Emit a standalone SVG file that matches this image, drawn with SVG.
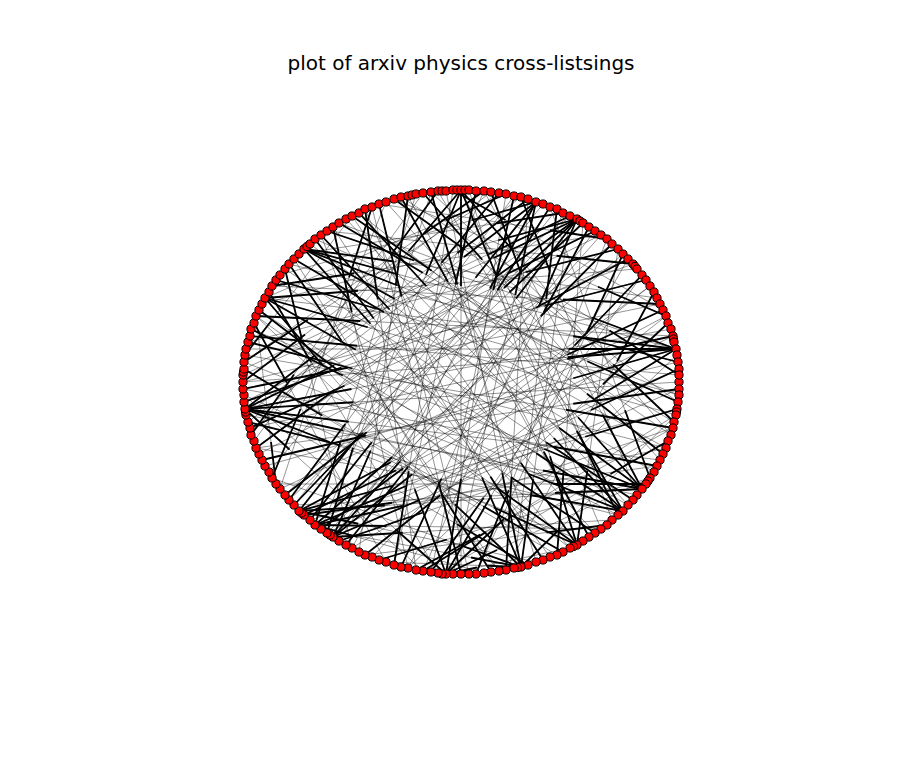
<svg xmlns="http://www.w3.org/2000/svg" xmlns:xlink="http://www.w3.org/1999/xlink" width="900" height="766" viewBox="0 0 900 766">
<style>
.title{font-family:"DejaVu Sans","Liberation Sans",sans-serif;font-size:20px;fill:#000}
.thin{fill:none;stroke:#000;stroke-width:.7;stroke-opacity:.6}
.head{fill:none;stroke:#000;stroke-width:1.8;stroke-dasharray:0 3 1 0}
#nodes circle{fill:#f00;stroke:#000;stroke-width:1;r:4.1}
</style>
<rect width="900" height="766" fill="#fff"/>
<text class="title" x="461" y="70" text-anchor="middle">plot of arxiv physics cross-listsings</text>
<g id="connectors">
<g class="thin"><g id="E">
<path pathLength="4" d="M272 478L521 567"/>
<path pathLength="4" d="M386 562L521 567"/>
<path pathLength="4" d="M256 316L521 567"/>
<path pathLength="4" d="M365 209L521 567"/>
<path pathLength="4" d="M570 216L521 567"/>
<path pathLength="4" d="M676 415L521 567"/>
<path pathLength="4" d="M321 529L521 567"/>
<path pathLength="4" d="M446 191L521 567"/>
<path pathLength="4" d="M650 478L446 574"/>
<path pathLength="4" d="M628 259L446 574"/>
<path pathLength="4" d="M506 194L446 574"/>
<path pathLength="4" d="M244 395L446 574"/>
<path pathLength="4" d="M570 548L446 574"/>
<path pathLength="4" d="M321 235L446 574"/>
<path pathLength="4" d="M677 355L446 574"/>
<path pathLength="4" d="M666 448L315 525"/>
<path pathLength="4" d="M623 254L315 525"/>
<path pathLength="4" d="M484 573L315 525"/>
<path pathLength="4" d="M416 194L315 525"/>
<path pathLength="4" d="M601 529L315 525"/>
<path pathLength="4" d="M679 369L315 525"/>
<path pathLength="4" d="M677 409L299 511"/>
<path pathLength="4" d="M666 316L299 511"/>
<path pathLength="4" d="M543 204L299 511"/>
<path pathLength="4" d="M536 562L299 511"/>
<path pathLength="4" d="M642 489L299 511"/>
<path pathLength="4" d="M679 389L333 537"/>
<path pathLength="4" d="M650 286L333 537"/>
<path pathLength="4" d="M484 191L333 537"/>
<path pathLength="4" d="M612 520L333 537"/>
<path pathLength="4" d="M601 235L333 537"/>
<path pathLength="4" d="M679 382L245 409"/>
<path pathLength="4" d="M660 460L245 409"/>
<path pathLength="4" d="M671 329L245 409"/>
<path pathLength="4" d="M601 235L245 409"/>
<path pathLength="4" d="M583 541L245 409"/>
<path pathLength="4" d="M521 197L245 409"/>
<path pathLength="4" d="M423 571L245 409"/>
<path pathLength="4" d="M637 495L245 409"/>
<path pathLength="4" d="M243 382L676 349"/>
<path pathLength="4" d="M265 298L676 349"/>
<path pathLength="4" d="M265 466L676 349"/>
<path pathLength="4" d="M339 223L676 349"/>
<path pathLength="4" d="M352 548L676 349"/>
<path pathLength="4" d="M246 349L676 349"/>
<path pathLength="4" d="M251 329L642 489"/>
<path pathLength="4" d="M310 244L642 489"/>
<path pathLength="4" d="M246 415L642 489"/>
<path pathLength="4" d="M386 202L642 489"/>
<path pathLength="4" d="M484 191L642 489"/>
<path pathLength="4" d="M294 505L642 489"/>
<path pathLength="4" d="M244 362L623 511"/>
<path pathLength="4" d="M276 280L623 511"/>
<path pathLength="4" d="M438 191L623 511"/>
<path pathLength="4" d="M256 448L623 511"/>
<path pathLength="4" d="M346 219L623 511"/>
<path pathLength="4" d="M256 448L577 219"/>
<path pathLength="4" d="M333 537L577 219"/>
<path pathLength="4" d="M243 375L577 219"/>
<path pathLength="4" d="M423 571L577 219"/>
<path pathLength="4" d="M285 495L577 219"/>
<path pathLength="4" d="M262 304L577 219"/>
<path pathLength="4" d="M352 548L536 202"/>
<path pathLength="4" d="M248 422L536 202"/>
<path pathLength="4" d="M453 574L536 202"/>
<path pathLength="4" d="M294 505L536 202"/>
<path pathLength="4" d="M280 275L536 202"/>
<path pathLength="4" d="M461 574L461 190"/>
<path pathLength="4" d="M601 529L461 190"/>
<path pathLength="4" d="M321 529L461 190"/>
<path pathLength="4" d="M671 435L461 190"/>
<path pathLength="4" d="M251 435L461 190"/>
<path pathLength="4" d="M676 349L304 249"/>
<path pathLength="4" d="M666 448L304 249"/>
<path pathLength="4" d="M657 298L304 249"/>
<path pathLength="4" d="M570 548L304 249"/>
<path pathLength="4" d="M679 395L304 249"/>
<path pathLength="4" d="M676 415L265 298"/>
<path pathLength="4" d="M637 269L265 298"/>
<path pathLength="4" d="M628 505L265 298"/>
<path pathLength="4" d="M499 571L265 298"/>
<path pathLength="4" d="M352 216L577 545"/>
<path pathLength="4" d="M256 316L577 545"/>
<path pathLength="4" d="M469 190L577 545"/>
<path pathLength="4" d="M244 395L577 545"/>
<path pathLength="4" d="M618 249L577 545"/>
<path pathLength="4" d="M676 415L423 571"/>
<path pathLength="4" d="M650 478L379 560"/>
<path pathLength="4" d="M256 316L276 484"/>
<path pathLength="4" d="M386 202L272 478"/>
<path pathLength="4" d="M570 216L256 448"/>
<path pathLength="4" d="M628 259L250 428"/>
<path pathLength="4" d="M660 304L243 389"/>
<path pathLength="4" d="M499 193L244 362"/>
<path pathLength="4" d="M352 216L245 355"/>
<path pathLength="4" d="M666 448L248 342"/>
<path pathLength="4" d="M618 515L251 329"/>
<path pathLength="4" d="M386 562L254 323"/>
<path pathLength="4" d="M673 336L256 316"/>
<path pathLength="4" d="M570 548L259 310"/>
<path pathLength="4" d="M438 573L269 292"/>
<path pathLength="4" d="M601 235L272 286"/>
<path pathLength="4" d="M679 395L276 280"/>
<path pathLength="4" d="M352 548L285 269"/>
<path pathLength="4" d="M499 571L289 264"/>
<path pathLength="4" d="M654 472L294 259"/>
<path pathLength="4" d="M550 557L315 239"/>
<path pathLength="4" d="M676 349L327 231"/>
<path pathLength="4" d="M408 568L333 227"/>
<path pathLength="4" d="M671 435L352 216"/>
<path pathLength="4" d="M628 505L359 213"/>
<path pathLength="4" d="M280 489L372 207"/>
<path pathLength="4" d="M469 574L379 204"/>
<path pathLength="4" d="M678 402L394 199"/>
<path pathLength="4" d="M589 537L401 197"/>
<path pathLength="4" d="M359 552L408 196"/>
<path pathLength="4" d="M660 460L423 193"/>
<path pathLength="4" d="M536 562L431 192"/>
<path pathLength="4" d="M254 441L438 191"/>
<path pathLength="4" d="M663 310L453 190"/>
<path pathLength="4" d="M394 565L476 191"/>
<path pathLength="4" d="M244 362L484 191"/>
<path pathLength="4" d="M612 520L491 192"/>
<path pathLength="4" d="M269 472L499 193"/>
<path pathLength="4" d="M265 298L506 194"/>
<path pathLength="4" d="M431 572L514 196"/>
<path pathLength="4" d="M637 495L521 197"/>
<path pathLength="4" d="M246 415L528 199"/>
<path pathLength="4" d="M339 541L550 207"/>
<path pathLength="4" d="M514 568L557 209"/>
<path pathLength="4" d="M299 254L563 213"/>
<path pathLength="4" d="M244 369L570 216"/>
<path pathLength="4" d="M289 500L583 223"/>
<path pathLength="4" d="M408 568L589 227"/>
<path pathLength="4" d="M244 402L595 231"/>
<path pathLength="4" d="M379 204L607 239"/>
<path pathLength="4" d="M327 533L612 244"/>
<path pathLength="4" d="M248 342L618 249"/>
<path pathLength="4" d="M476 574L623 254"/>
<path pathLength="4" d="M259 454L628 259"/>
<path pathLength="4" d="M327 231L633 264"/>
<path pathLength="4" d="M372 557L642 275"/>
<path pathLength="4" d="M243 382L646 280"/>
<path pathLength="4" d="M506 570L654 292"/>
<path pathLength="4" d="M272 286L660 304"/>
<path pathLength="4" d="M280 489L663 310"/>
<path pathLength="4" d="M394 199L666 316"/>
<path pathLength="4" d="M408 568L668 323"/>
<path pathLength="4" d="M250 428L673 336"/>
<path pathLength="4" d="M289 264L678 362"/>
<path pathLength="4" d="M327 533L679 369"/>
<path pathLength="4" d="M401 197L679 375"/>
<path pathLength="4" d="M256 448L679 389"/>
<path pathLength="4" d="M315 239L678 402"/>
<path pathLength="4" d="M310 520L677 409"/>
<path pathLength="4" d="M431 192L674 422"/>
<path pathLength="4" d="M245 355L673 428"/>
<path pathLength="4" d="M438 573L668 441"/>
<path pathLength="4" d="M359 213L663 454"/>
<path pathLength="4" d="M243 389L657 466"/>
<path pathLength="4" d="M550 207L650 478"/>
<path pathLength="4" d="M276 484L646 484"/>
<path pathLength="4" d="M285 269L633 500"/>
<path pathLength="4" d="M461 190L618 515"/>
<path pathLength="4" d="M365 555L607 525"/>
<path pathLength="4" d="M259 310L595 533"/>
<path pathLength="4" d="M408 196L589 537"/>
<path pathLength="4" d="M244 369L563 552"/>
<path pathLength="4" d="M583 223L557 555"/>
<path pathLength="4" d="M333 227L543 560"/>
<path pathLength="4" d="M244 402L528 565"/>
<path pathLength="4" d="M528 199L506 570"/>
<path pathLength="4" d="M294 259L491 572"/>
<path pathLength="4" d="M607 239L476 574"/>
<path pathLength="4" d="M372 207L461 574"/>
<path pathLength="4" d="M642 275L431 572"/>
<path pathLength="4" d="M673 428L416 570"/>
<path pathLength="4" d="M563 213L401 567"/>
<path pathLength="4" d="M453 190L394 565"/>
<path pathLength="4" d="M666 316L365 555"/>
<path pathLength="4" d="M595 231L346 545"/>
<path pathLength="4" d="M657 466L304 515"/>
<path pathLength="4" d="M514 196L289 500"/>
<path pathLength="4" d="M612 244L285 495"/>
<path pathLength="4" d="M678 362L262 460"/>
<path pathLength="4" d="M423 193L251 435"/>
<path pathLength="4" d="M618 515L248 422"/>
<path pathLength="4" d="M633 264L244 402"/>
<path pathLength="4" d="M491 192L243 382"/>
<path pathLength="4" d="M557 555L244 369"/>
<path pathLength="4" d="M679 375L250 336"/>
<path pathLength="4" d="M557 209L310 520"/>
<path pathLength="4" d="M595 533L321 235"/>
<path pathLength="4" d="M674 422L339 223"/>
<path pathLength="4" d="M416 570L365 209"/>
<path pathLength="4" d="M570 216L294 505"/>
<path pathLength="4" d="M650 286L321 529"/>
<path pathLength="4" d="M431 192L327 533"/>
<path pathLength="4" d="M673 428L339 541"/>
<path pathLength="4" d="M673 336L304 515"/>
</g></g>
<use href="#E" xlink:href="#E" class="head"/>
</g>
<g id="nodes">
<g id="v0"><circle cx="679" cy="382"/></g>
<g id="v1"><circle cx="679" cy="389"/></g>
<g id="v2"><circle cx="679" cy="395"/></g>
<g id="v3"><circle cx="678" cy="402"/></g>
<g id="v4"><circle cx="677" cy="409"/></g>
<g id="v5"><circle cx="676.5" cy="412"/></g>
<g id="v6"><circle cx="676" cy="415"/></g>
<g id="v7"><circle cx="674" cy="422"/></g>
<g id="v8"><circle cx="673" cy="428"/></g>
<g id="v9"><circle cx="671" cy="435"/></g>
<g id="v10"><circle cx="668" cy="441"/></g>
<g id="v11"><circle cx="666" cy="448"/></g>
<g id="v12"><circle cx="663" cy="454"/></g>
<g id="v13"><circle cx="660" cy="460"/></g>
<g id="v14"><circle cx="657" cy="466"/></g>
<g id="v15"><circle cx="654" cy="472"/></g>
<g id="v16"><circle cx="650" cy="478"/></g>
<g id="v17"><circle cx="648" cy="481"/></g>
<g id="v18"><circle cx="646" cy="484"/></g>
<g id="v19"><circle cx="642" cy="489"/></g>
<g id="v20"><circle cx="637" cy="495"/></g>
<g id="v21"><circle cx="633" cy="500"/></g>
<g id="v22"><circle cx="628" cy="505"/></g>
<g id="v23"><circle cx="623" cy="511"/></g>
<g id="v24"><circle cx="618" cy="515"/></g>
<g id="v25"><circle cx="612" cy="520"/></g>
<g id="v26"><circle cx="607" cy="525"/></g>
<g id="v27"><circle cx="601" cy="529"/></g>
<g id="v28"><circle cx="595" cy="533"/></g>
<g id="v29"><circle cx="589" cy="537"/></g>
<g id="v30"><circle cx="583" cy="541"/></g>
<g id="v31"><circle cx="577" cy="545"/></g>
<g id="v32"><circle cx="573.5" cy="546.5"/></g>
<g id="v33"><circle cx="570" cy="548"/></g>
<g id="v34"><circle cx="563" cy="552"/></g>
<g id="v35"><circle cx="557" cy="555"/></g>
<g id="v36"><circle cx="550" cy="557"/></g>
<g id="v37"><circle cx="543" cy="560"/></g>
<g id="v38"><circle cx="536" cy="562"/></g>
<g id="v39"><circle cx="528" cy="565"/></g>
<g id="v40"><circle cx="521" cy="567"/></g>
<g id="v41"><circle cx="517.5" cy="567.5"/></g>
<g id="v42"><circle cx="514" cy="568"/></g>
<g id="v43"><circle cx="506" cy="570"/></g>
<g id="v44"><circle cx="499" cy="571"/></g>
<g id="v45"><circle cx="491" cy="572"/></g>
<g id="v46"><circle cx="484" cy="573"/></g>
<g id="v47"><circle cx="476" cy="574"/></g>
<g id="v48"><circle cx="469" cy="574"/></g>
<g id="v49"><circle cx="461" cy="574"/></g>
<g id="v50"><circle cx="453" cy="574"/></g>
<g id="v51"><circle cx="446" cy="574"/></g>
<g id="v52"><circle cx="442" cy="574"/></g>
<g id="v53"><circle cx="438" cy="573"/></g>
<g id="v54"><circle cx="431" cy="572"/></g>
<g id="v55"><circle cx="423" cy="571"/></g>
<g id="v56"><circle cx="416" cy="570"/></g>
<g id="v57"><circle cx="408" cy="568"/></g>
<g id="v58"><circle cx="401" cy="567"/></g>
<g id="v59"><circle cx="394" cy="565"/></g>
<g id="v60"><circle cx="386" cy="562"/></g>
<g id="v61"><circle cx="379" cy="560"/></g>
<g id="v62"><circle cx="372" cy="557"/></g>
<g id="v63"><circle cx="365" cy="555"/></g>
<g id="v64"><circle cx="359" cy="552"/></g>
<g id="v65"><circle cx="352" cy="548"/></g>
<g id="v66"><circle cx="346" cy="545"/></g>
<g id="v67"><circle cx="339" cy="541"/></g>
<g id="v68"><circle cx="333" cy="537"/></g>
<g id="v69"><circle cx="330" cy="535"/></g>
<g id="v70"><circle cx="327" cy="533"/></g>
<g id="v71"><circle cx="321" cy="529"/></g>
<g id="v72"><circle cx="315" cy="525"/></g>
<g id="v73"><circle cx="310" cy="520"/></g>
<g id="v74"><circle cx="304" cy="515"/></g>
<g id="v75"><circle cx="301.5" cy="513"/></g>
<g id="v76"><circle cx="299" cy="511"/></g>
<g id="v77"><circle cx="294" cy="505"/></g>
<g id="v78"><circle cx="289" cy="500"/></g>
<g id="v79"><circle cx="285" cy="495"/></g>
<g id="v80"><circle cx="280" cy="489"/></g>
<g id="v81"><circle cx="276" cy="484"/></g>
<g id="v82"><circle cx="272" cy="478"/></g>
<g id="v83"><circle cx="269" cy="472"/></g>
<g id="v84"><circle cx="265" cy="466"/></g>
<g id="v85"><circle cx="262" cy="460"/></g>
<g id="v86"><circle cx="259" cy="454"/></g>
<g id="v87"><circle cx="256" cy="448"/></g>
<g id="v88"><circle cx="254" cy="441"/></g>
<g id="v89"><circle cx="251" cy="435"/></g>
<g id="v90"><circle cx="250" cy="428"/></g>
<g id="v91"><circle cx="248" cy="422"/></g>
<g id="v92"><circle cx="246" cy="415"/></g>
<g id="v93"><circle cx="245.5" cy="412"/></g>
<g id="v94"><circle cx="245" cy="409"/></g>
<g id="v95"><circle cx="244" cy="402"/></g>
<g id="v96"><circle cx="244" cy="395"/></g>
<g id="v97"><circle cx="243" cy="389"/></g>
<g id="v98"><circle cx="243" cy="382"/></g>
<g id="v99"><circle cx="243" cy="375"/></g>
<g id="v100"><circle cx="243.5" cy="372"/></g>
<g id="v101"><circle cx="244" cy="369"/></g>
<g id="v102"><circle cx="244" cy="362"/></g>
<g id="v103"><circle cx="245" cy="355"/></g>
<g id="v104"><circle cx="246" cy="349"/></g>
<g id="v105"><circle cx="248" cy="342"/></g>
<g id="v106"><circle cx="250" cy="336"/></g>
<g id="v107"><circle cx="251" cy="329"/></g>
<g id="v108"><circle cx="254" cy="323"/></g>
<g id="v109"><circle cx="256" cy="316"/></g>
<g id="v110"><circle cx="259" cy="310"/></g>
<g id="v111"><circle cx="262" cy="304"/></g>
<g id="v112"><circle cx="265" cy="298"/></g>
<g id="v113"><circle cx="269" cy="292"/></g>
<g id="v114"><circle cx="272" cy="286"/></g>
<g id="v115"><circle cx="276" cy="280"/></g>
<g id="v116"><circle cx="280" cy="275"/></g>
<g id="v117"><circle cx="285" cy="269"/></g>
<g id="v118"><circle cx="289" cy="264"/></g>
<g id="v119"><circle cx="294" cy="259"/></g>
<g id="v120"><circle cx="299" cy="254"/></g>
<g id="v121"><circle cx="304" cy="249"/></g>
<g id="v122"><circle cx="307" cy="246.5"/></g>
<g id="v123"><circle cx="310" cy="244"/></g>
<g id="v124"><circle cx="315" cy="239"/></g>
<g id="v125"><circle cx="321" cy="235"/></g>
<g id="v126"><circle cx="327" cy="231"/></g>
<g id="v127"><circle cx="333" cy="227"/></g>
<g id="v128"><circle cx="339" cy="223"/></g>
<g id="v129"><circle cx="346" cy="219"/></g>
<g id="v130"><circle cx="352" cy="216"/></g>
<g id="v131"><circle cx="359" cy="213"/></g>
<g id="v132"><circle cx="365" cy="209"/></g>
<g id="v133"><circle cx="372" cy="207"/></g>
<g id="v134"><circle cx="379" cy="204"/></g>
<g id="v135"><circle cx="386" cy="202"/></g>
<g id="v136"><circle cx="394" cy="199"/></g>
<g id="v137"><circle cx="401" cy="197"/></g>
<g id="v138"><circle cx="408" cy="196"/></g>
<g id="v139"><circle cx="412" cy="195"/></g>
<g id="v140"><circle cx="416" cy="194"/></g>
<g id="v141"><circle cx="423" cy="193"/></g>
<g id="v142"><circle cx="431" cy="192"/></g>
<g id="v143"><circle cx="438" cy="191"/></g>
<g id="v144"><circle cx="442" cy="191"/></g>
<g id="v145"><circle cx="446" cy="191"/></g>
<g id="v146"><circle cx="453" cy="190"/></g>
<g id="v147"><circle cx="457" cy="190"/></g>
<g id="v148"><circle cx="461" cy="190"/></g>
<g id="v149"><circle cx="465" cy="190"/></g>
<g id="v150"><circle cx="469" cy="190"/></g>
<g id="v151"><circle cx="476" cy="191"/></g>
<g id="v152"><circle cx="484" cy="191"/></g>
<g id="v153"><circle cx="491" cy="192"/></g>
<g id="v154"><circle cx="499" cy="193"/></g>
<g id="v155"><circle cx="506" cy="194"/></g>
<g id="v156"><circle cx="514" cy="196"/></g>
<g id="v157"><circle cx="521" cy="197"/></g>
<g id="v158"><circle cx="528" cy="199"/></g>
<g id="v159"><circle cx="536" cy="202"/></g>
<g id="v160"><circle cx="543" cy="204"/></g>
<g id="v161"><circle cx="550" cy="207"/></g>
<g id="v162"><circle cx="557" cy="209"/></g>
<g id="v163"><circle cx="563" cy="213"/></g>
<g id="v164"><circle cx="570" cy="216"/></g>
<g id="v165"><circle cx="577" cy="219"/></g>
<g id="v166"><circle cx="580" cy="221"/></g>
<g id="v167"><circle cx="583" cy="223"/></g>
<g id="v168"><circle cx="589" cy="227"/></g>
<g id="v169"><circle cx="595" cy="231"/></g>
<g id="v170"><circle cx="601" cy="235"/></g>
<g id="v171"><circle cx="607" cy="239"/></g>
<g id="v172"><circle cx="612" cy="244"/></g>
<g id="v173"><circle cx="618" cy="249"/></g>
<g id="v174"><circle cx="623" cy="254"/></g>
<g id="v175"><circle cx="628" cy="259"/></g>
<g id="v176"><circle cx="633" cy="264"/></g>
<g id="v177"><circle cx="635" cy="266.5"/></g>
<g id="v178"><circle cx="637" cy="269"/></g>
<g id="v179"><circle cx="642" cy="275"/></g>
<g id="v180"><circle cx="646" cy="280"/></g>
<g id="v181"><circle cx="650" cy="286"/></g>
<g id="v182"><circle cx="654" cy="292"/></g>
<g id="v183"><circle cx="657" cy="298"/></g>
<g id="v184"><circle cx="660" cy="304"/></g>
<g id="v185"><circle cx="663" cy="310"/></g>
<g id="v186"><circle cx="666" cy="316"/></g>
<g id="v187"><circle cx="668" cy="323"/></g>
<g id="v188"><circle cx="671" cy="329"/></g>
<g id="v189"><circle cx="673" cy="336"/></g>
<g id="v190"><circle cx="673.5" cy="339"/></g>
<g id="v191"><circle cx="674" cy="342"/></g>
<g id="v192"><circle cx="676" cy="349"/></g>
<g id="v193"><circle cx="677" cy="355"/></g>
<g id="v194"><circle cx="678" cy="362"/></g>
<g id="v195"><circle cx="679" cy="369"/></g>
<g id="v196"><circle cx="679" cy="375"/></g>
</g>
</svg>
